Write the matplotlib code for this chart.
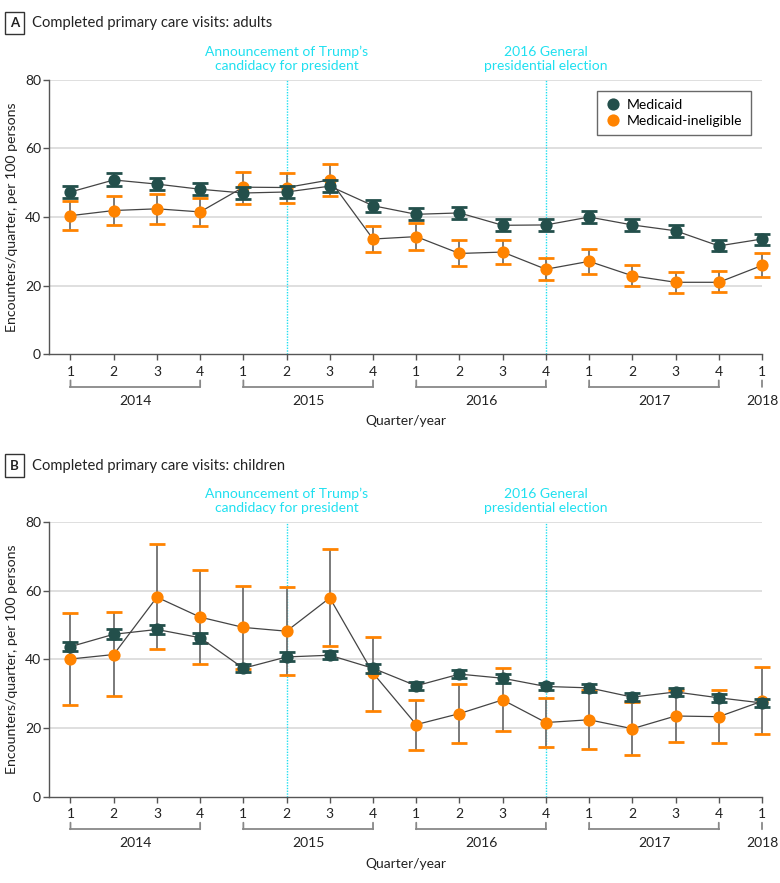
import matplotlib
matplotlib.use("Agg")
import matplotlib.pyplot as plt
import matplotlib.transforms as mtransforms
from matplotlib.lines import Line2D
import numpy as np

plt.rcParams['font.family'] = ['Lato', 'DejaVu Sans']

# ---------------- data ----------------
quarter_labels = ['1', '2', '3', '4', '1', '2', '3', '4', '1', '2', '3', '4',
                  '1', '2', '3', '4', '1']
year_labels = ['2014', '2015', '2016', '2017', '2018']
year_first_q = [1, 5, 9, 13, 17]
year_last_q = [4, 8, 12, 16, 17]

event_labels = ["Announcement of Trump\u2019s\ncandidacy for president",
                "2016 General\npresidential election"]
event_q = [6, 12]

adult_medicaid = [47.3, 50.8, 49.6, 48.1, 47.0, 47.3, 49.0, 43.3, 40.8, 41.2,
                  37.6, 37.7, 40.0, 37.7, 36.0, 31.6, 33.6]
adult_medicaid_err = [1.8, 1.9, 1.8, 1.7, 1.8, 1.8, 1.8, 1.8, 1.7, 1.7,
                      1.7, 1.7, 1.7, 1.7, 1.7, 1.6, 1.6]
adult_inelig = [40.4, 41.9, 42.4, 41.5, 48.7, 48.6, 50.8, 33.6, 34.3, 29.4,
                29.8, 24.8, 27.1, 22.9, 21.0, 21.0, 25.9]
adult_inelig_lo = [36.2, 37.6, 38.1, 37.3, 43.9, 44.1, 46.1, 29.9, 30.4, 25.6,
                   26.2, 21.6, 23.5, 19.9, 17.9, 18.2, 22.5]
adult_inelig_hi = [44.8, 46.1, 46.7, 45.5, 53.2, 52.9, 55.5, 37.3, 38.2, 33.3,
                   33.4, 28.2, 30.7, 26.0, 24.1, 24.2, 29.4]

child_medicaid = [43.7, 47.3, 48.7, 46.3, 37.4, 40.7, 41.2, 37.4, 32.3, 35.7,
                  34.5, 32.1, 31.7, 29.0, 30.5, 28.8, 27.3]
child_medicaid_err = [1.4, 1.4, 1.3, 1.4, 1.2, 1.3, 1.2, 1.3, 1.1, 1.1,
                      1.3, 1.1, 1.1, 1.1, 1.1, 1.1, 1.1]
child_inelig = [40.1, 41.4, 58.1, 52.3, 49.3, 48.2, 57.9, 36.0, 21.0, 24.2,
                28.2, 21.6, 22.4, 19.8, 23.5, 23.3, 27.8]
child_inelig_lo = [26.8, 29.2, 42.9, 38.7, 37.2, 35.3, 44.0, 25.1, 13.7, 15.5,
                   19.0, 14.6, 13.8, 12.0, 15.9, 15.5, 18.2]
child_inelig_hi = [53.5, 53.7, 73.5, 65.9, 61.4, 61.1, 72.0, 46.6, 28.2, 32.9,
                   37.5, 28.6, 31.0, 27.6, 31.1, 31.2, 37.7]

panel_letters = ['A', 'B']
panel_titles = ['Completed primary care visits: adults',
                'Completed primary care visits: children']

# ---------------- styles ----------------
TEAL = '#234F4B'
ORANGE = '#FF8300'
CYAN = '#1FE0F0'
GRID = '#DCDCDC'
SPINE = '#555555'
STEM = '#707070'
LINE = '#444444'
TXT = '#222222'

W, H = 780, 883
fig = plt.figure(figsize=(W / 100, H / 100), dpi=100)

ax_left_px, ax_right_px = 49.3, 762.0
panels_px = [(79.7, 354.4), (522.0, 796.7)]  # (top, bottom) pixel rows
XMIN, XMAX = 0.51, 17.0

x = np.arange(1, len(quarter_labels) + 1)


def px2fig(xp, yp):
    return xp / W, 1 - yp / H


def draw_series(ax, y, lo, hi, color, stemcolor, z):
    y = np.asarray(y)
    yerr = np.vstack([y - np.asarray(lo), np.asarray(hi) - y])
    _, caps, bars = ax.errorbar(x, y, yerr=yerr, fmt='none', ecolor=stemcolor,
                                elinewidth=1.3, capsize=6, capthick=2.0,
                                zorder=z)
    for c in caps:
        c.set_color(color)
        c.set_markeredgecolor(color)
        c.set_markerfacecolor(color)
        c.set_zorder(z)
        c.set_clip_on(False)
    for bcol in bars:
        bcol.set_clip_on(False)
    ax.plot(x, y, color=LINE, lw=0.9, zorder=z + 0.1, clip_on=False)
    ax.plot(x, y, 'o', color=color, ms=8.8, mec='none', zorder=z + 0.2,
            clip_on=False)


datasets = [
    (adult_medicaid, adult_medicaid_err, adult_inelig, adult_inelig_lo, adult_inelig_hi),
    (child_medicaid, child_medicaid_err, child_inelig, child_inelig_lo, child_inelig_hi),
]

for p, (top, bot) in enumerate(panels_px):
    l, b = px2fig(ax_left_px, bot)
    w = (ax_right_px - ax_left_px) / W
    h = (bot - top) / H
    ax = fig.add_axes([l, b, w, h])
    ax.set_xlim(XMIN, XMAX)
    ax.set_ylim(0, 80)
    ax.set_yticks([0, 20, 40, 60, 80])
    ax.set_xticks(x)
    ax.set_xticklabels(quarter_labels)
    for s in ['top', 'right']:
        ax.spines[s].set_visible(False)
    for s in ['left', 'bottom']:
        ax.spines[s].set_color(SPINE)
        ax.spines[s].set_linewidth(1.0)
    ax.tick_params(axis='both', direction='out', length=4, width=1.0,
                   color=SPINE, labelsize=10, labelcolor=TXT)
    ax.tick_params(axis='y', pad=2)
    ax.tick_params(axis='x', pad=4)
    for gy in [20, 40, 60, 80]:
        ax.axhline(gy, color=GRID, lw=1.3, zorder=0.5)

    # event lines
    for eq in event_q:
        ax.axvline(eq, color=CYAN, lw=1.0, ls=(0, (1, 1)), zorder=1)

    med, med_err, ine, ine_lo, ine_hi = datasets[p]
    med = np.asarray(med)
    med_err = np.asarray(med_err)
    draw_series(ax, ine, ine_lo, ine_hi, ORANGE, STEM, 2)
    draw_series(ax, med, med - med_err, med + med_err, TEAL, '#2F3F3D', 3)

    # year brackets
    trans_br = mtransforms.offset_copy(ax.get_xaxis_transform(), fig=fig,
                                       y=-32.5 * 0.72, units='points')
    trans_top = mtransforms.offset_copy(ax.get_xaxis_transform(), fig=fig,
                                        y=-26 * 0.72, units='points')
    trans_yr = mtransforms.offset_copy(ax.get_xaxis_transform(), fig=fig,
                                       y=-46.5 * 0.72, units='points')
    for yl, q0, q1 in zip(year_labels, year_first_q, year_last_q):
        if q0 != q1:
            ax.plot([q0, q1], [0, 0], color='#888888', lw=1.3,
                    transform=trans_br, clip_on=False)
        for qq in sorted(set([q0, q1])):
            ax.annotate('', xy=(qq, 0), xycoords=trans_top,
                        xytext=(qq, 0), textcoords=trans_br,
                        arrowprops=dict(arrowstyle='-', color='#888888',
                                        lw=1.3, shrinkA=0, shrinkB=0))
        ax.text((q0 + q1) / 2, 0, yl, transform=trans_yr, ha='center',
                va='center', fontsize=10, color=TXT)

    # x label
    xc = (ax_left_px + ax_right_px) / 2
    fx, fy = px2fig(xc, bot + 67)
    fig.text(fx, fy, 'Quarter/year', ha='center', va='center', fontsize=10,
             color=TXT)

    # y label
    fx, fy = px2fig(12, (top + bot) / 2)
    fig.text(fx, fy, 'Encounters/quarter, per 100 persons', rotation=90,
             ha='center', va='center', fontsize=10.2, color=TXT)

    # event annotations
    for el, eq in zip(event_labels, event_q):
        xp = ax_left_px + (eq - XMIN) / (XMAX - XMIN) * (ax_right_px - ax_left_px)
        fx, fy = px2fig(xp, top - 21)
        fig.text(fx, fy, el, ha='center', va='center', fontsize=10,
                 color=CYAN, linespacing=1.2)

    # panel letter and title
    fx, fy = px2fig(14.5, top - 56.5)
    fig.text(fx, fy, panel_letters[p], ha='center', va='center',
             fontsize=9.5, fontweight='bold', color=TXT,
             bbox=dict(boxstyle='square,pad=0.4', fc='white', ec='#333333',
                       lw=1.0))
    fx, fy = px2fig(32, top - 56.5)
    fig.text(fx, fy, panel_titles[p], ha='left', va='center', fontsize=10.6,
             color=TXT)

    if p == 0:
        handles = [Line2D([], [], marker='o', ls='none', color=TEAL, ms=8.8,
                          mec='none', label='Medicaid'),
                   Line2D([], [], marker='o', ls='none', color=ORANGE, ms=8.8,
                          mec='none', label='Medicaid-ineligible')]
        leg = ax.legend(handles=handles, loc='upper right',
                        bbox_to_anchor=px2fig(751, 91),
                        bbox_transform=fig.transFigure, borderaxespad=0,
                        frameon=True, fancybox=False, fontsize=10,
                        handletextpad=0.4, borderpad=0.6, labelspacing=0.25,
                        handlelength=1.2)
        leg.get_frame().set_edgecolor('#444444')
        leg.get_frame().set_linewidth(1.0)

fig.savefig('out.png', dpi=100)
